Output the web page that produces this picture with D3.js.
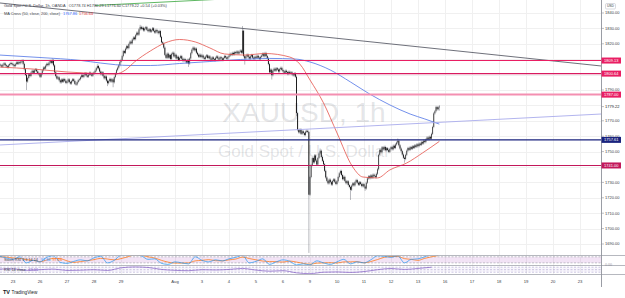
<!DOCTYPE html>
<html><head><meta charset="utf-8">
<script src="https://cdn.jsdelivr.net/npm/d3@7"></script>
<style>
html,body{margin:0;padding:0;background:#fff;overflow:hidden;}
svg{display:block;font-family:"Liberation Sans",Arial,sans-serif;}
</style></head><body>
<svg id="c" width="625" height="298"></svg>
<script>
// ---------------- DATA ----------------
const firstBar = -11; // hourly bar index of first close (Jul 23 00:00 = 0)
const closes = [
 // Jul 22 (tail)
 1806.0,1805.2,1806.5,1807.3,1806.1,1805.4,1804.8,1806.0,1806.9,1807.5,1806.8,
 // Jul 23
 1806.2,1805.5,1806.8,1807.9,1807.1,1808.0,1807.4,1808.6,1809.2,1807.0,1803.5,1799.8,
 1795.5,1797.8,1800.2,1799.1,1801.3,1802.5,1801.2,1802.8,1803.4,1802.1,1801.0,1800.2,
 // Jul 26
 1798.6,1800.5,1802.8,1804.6,1803.9,1805.8,1807.0,1806.2,1807.8,1808.9,1807.5,1809.3,
 1806.0,1801.5,1799.0,1797.4,1798.2,1796.3,1795.0,1796.8,1795.4,1797.1,1796.0,1794.6,
 // Jul 27
 1795.5,1796.9,1795.1,1794.2,1795.8,1797.0,1795.9,1794.0,1793.6,1795.2,1796.4,1797.0,
 1798.3,1799.6,1798.5,1799.8,1800.9,1799.4,1798.6,1800.0,1801.2,1800.1,1799.3,1800.6,
 // Jul 28
 1801.5,1802.6,1804.2,1805.6,1804.1,1802.0,1800.3,1801.5,1799.2,1797.6,1798.8,1796.1,
 1794.4,1795.8,1797.2,1795.5,1796.9,1795.0,1798.4,1800.6,1802.9,1804.5,1806.1,1808.2,
 // Jul 29
 1809.5,1812.0,1815.3,1814.1,1816.8,1818.5,1817.2,1819.9,1821.4,1820.3,1822.8,1824.1,
 1823.0,1825.6,1827.2,1826.0,1829.4,1831.0,1829.6,1830.4,1828.7,1829.9,1830.8,1829.1,
 // Jul 30
 1828.2,1829.5,1827.9,1828.8,1830.1,1828.4,1827.3,1829.0,1828.1,1826.9,1828.3,1824.5,
 1821.0,1820.2,1817.5,1812.8,1810.9,1813.6,1811.0,1812.7,1810.2,1813.5,1814.2,1811.8,
 // Aug 2
 1812.9,1810.5,1811.6,1809.4,1810.8,1812.0,1810.3,1808.9,1810.1,1809.0,1807.8,1809.6,
 1807.2,1810.5,1813.9,1816.2,1817.5,1815.8,1816.9,1814.2,1813.0,1811.6,1812.9,1811.4,
 // Aug 3
 1812.4,1811.0,1810.2,1811.7,1812.5,1810.8,1811.9,1810.4,1809.7,1811.2,1810.0,1809.4,
 1810.9,1811.8,1810.5,1809.8,1811.3,1810.6,1809.5,1810.8,1812.0,1811.1,1810.3,1811.5,
 // Aug 4
 1812.3,1813.5,1812.8,1814.1,1813.2,1814.6,1813.9,1815.0,1813.7,1814.8,1815.6,1814.2,
 1828.5,1812.0,1810.5,1811.8,1812.9,1811.5,1810.4,1811.9,1812.7,1811.0,1810.3,1811.6,
 // Aug 5
 1810.9,1812.2,1811.0,1810.1,1811.5,1812.4,1813.6,1811.9,1814.0,1812.1,1810.5,1806.8,
 1801.5,1803.2,1799.6,1802.4,1803.8,1802.6,1804.1,1803.3,1802.0,1803.6,1804.4,1803.0,
 // Aug 6
 1802.1,1801.2,1802.5,1801.6,1800.4,1801.8,1800.9,1801.5,1800.2,1799.5,1800.8,1798.6,
 1775.0,1764.0,1762.5,1764.3,1761.6,1763.2,1762.0,1760.8,1762.9,1763.5,1762.7,1722.0,
 // Aug 9
 1733.5,1741.2,1745.8,1743.0,1747.5,1744.2,1741.6,1745.9,1748.8,1750.6,1746.5,1744.0,
 1741.8,1737.5,1733.2,1731.0,1729.4,1731.8,1730.2,1728.6,1730.9,1732.0,1730.4,1729.0,
 // Aug 10
 1730.8,1733.5,1735.9,1737.4,1734.8,1732.1,1733.6,1731.0,1729.5,1730.7,1728.3,1727.0,
 1725.2,1727.9,1729.4,1728.1,1730.2,1731.5,1729.8,1728.5,1730.1,1729.0,1727.6,1728.9,
 // Aug 11
 1727.3,1726.0,1729.8,1732.6,1733.9,1732.8,1734.5,1733.1,1735.0,1734.2,1733.4,1735.6,
 1738.5,1747.9,1751.2,1749.6,1752.8,1751.4,1753.0,1750.9,1752.2,1751.0,1749.8,1751.7,
 // Aug 12
 1752.9,1751.5,1753.8,1752.4,1754.6,1755.9,1757.0,1754.1,1752.0,1750.3,1748.1,1746.0,
 1745.2,1747.9,1750.6,1752.3,1751.1,1752.9,1751.8,1753.4,1752.5,1754.0,1753.1,1754.7,
 // Aug 13
 1753.6,1755.2,1754.4,1756.1,1755.3,1757.0,1756.2,1757.8,1759.1,1758.0,1759.6,1758.4,
 1761.5,1766.0,1774.8,1776.2,1778.9,1777.5,1778.74,1779.22
];
// notable wicks: [bar index, high, low]
const wickSpikes = [
 [8,1809.8,null],[12,null,1790.0],[35,1810.5,null],[75,1806.8,null],[84,null,1792.5],
 [89,null,1791.8],[113,1832.3,null],[156,null,1805.0],[204,1831.5,null],[206,null,1806.5],
 [230,null,1796.8],[252,null,1773.0],[263,null,1684.2],[273,1752.0,null],[300,null,1718.6],
 [313,null,1724.5],[342,1758.5,null],[348,null,1742.8],[379,1780.29,1776.60]
];
// moving averages (read at sample bars)
const ma200Idx = [-12,24,60,78,104,122,148,175,202,228,251,264,282,300,317,335,353,366,379];
const ma200Val = [1812.7,1811.1,1809.2,1807.5,1805.9,1805.9,1807.2,1808.5,1809.8,1810.5,1810.1,1808.2,1803.0,1795.2,1787.4,1780.3,1774.4,1771.2,1767.86];
const ma50Idx = [-12,18,48,77,91,100,108,122,135,148,162,175,188,206,224,246,255,264,276,288,302,311,324,335,350,364,379];
const ma50Val = [1804.9,1803.6,1801.7,1800.7,1800.4,1803.0,1808.2,1815.3,1820.5,1822.8,1821.2,1817.3,1813.4,1812.7,1813.7,1811.4,1806.8,1796.5,1781.6,1762.1,1740.0,1733.5,1732.9,1738.1,1742.6,1749.1,1756.64];
// drawings
const levelPrices = [1809.13,1800.64,1787.00,1757.61,1741.00];
const levelLabels = ["1809.13","1800.64","1787.00","1757.61","1741.00"];
const trendGray  = [[-11.56,1846.5],[522.67,1805.6]];
const trendLav   = [[-11.56,1754.3],[522.67,1774.4]];
const trendGreen = [[73,1844.9],[180,1848.8]];
// axes
const priceTicks = [1690,1700,1710,1720,1730,1750,1760,1770,1790,1820,1830,1840];
const lastPrice = 1779.22;
const dayIdx    = [0,1,2,3,4,6,7,8,9,10,11,12,13,14,15,16,17,18,19,20,21];
const dayLabels = ["23","26","27","28","29","Aug","3","4","5","6","9","10","11","12","13","16","17","18","19","20","23"];
// Stoch RSI (every 6 bars from -12)
const stochK = [85,70,55,80,20,45,30,75,90,25,15,35,50,40,70,85,20,45,95,98,100,90,55,60,15,5,30,20,10,80,45,30,50,40,60,75,95,20,35,60,5,30,50,35,0,10,0,40,20,5,30,55,10,30,20,50,90,85,75,90,20,55,60,80,100,98];
const stochD = [80,78,68,65,52,45,32,48,65,62,40,25,33,42,52,65,58,50,62,80,98,95,80,68,45,27,18,18,20,40,45,52,42,40,50,58,77,63,50,38,33,32,28,38,28,15,7,17,20,22,18,30,30,32,20,33,53,75,83,83,62,55,45,65,80,93];
// RSI (every 12 bars from -12)
const rsiVals = [55,57,45,50,55,44,46,50,44,65,72,68,52,45,42,50,48,52,60,47,38,42,25,18,30,32,28,35,50,60,52,60,70];

// ---------------- CHART ----------------
const W=625,H=298, PR=601, MB=255;
const svg=d3.select('#c');
svg.append('rect').attr('width',W).attr('height',H).attr('fill','#fff');
const defs=svg.append('defs');
defs.append('clipPath').attr('id','mc').append('rect').attr('x',0).attr('y',0).attr('width',PR).attr('height',MB);
defs.append('clipPath').attr('id','pc').append('rect').attr('x',0).attr('y',255.5).attr('width',PR).attr('height',19);

const x=d3.scaleLinear().domain([-11.56,522.67]).range([0,PR]);
const y=d3.scaleLinear().domain([1690,1840]).range([244,13]);

// grid
const grid=svg.append('g');
grid.selectAll('line.h').data(d3.range(1690,1850,10)).join('line')
  .attr('x1',0).attr('x2',PR).attr('y1',d=>Math.round(y(d))+0.5).attr('y2',d=>Math.round(y(d))+0.5)
  .attr('stroke','#f0f0f0').attr('stroke-width',1);
grid.selectAll('line.v').data(dayIdx).join('line')
  .attr('y1',0).attr('y2',274).attr('x1',d=>Math.round(x(d*24))+0.5).attr('x2',d=>Math.round(x(d*24))+0.5)
  .attr('stroke','#f0f0f0').attr('stroke-width',1);

// watermark
svg.append('text').attr('x',304).attr('y',122).attr('text-anchor','middle')
  .attr('font-size',28).attr('fill','rgba(120,123,134,0.2)').text('XAUUSD, 1h');
svg.append('text').attr('x',304).attr('y',157).attr('text-anchor','middle')
  .attr('font-size',17).attr('fill','rgba(120,123,134,0.2)').text('Gold Spot / U.S. Dollar');

const main=svg.append('g').attr('clip-path','url(#mc)');

// candles
const spikeMap=new Map(wickSpikes.map(s=>[s[0],s]));
const bars=closes.map((c,i)=>{
  const idx=firstBar+i;
  const o=i===0?c+0.4:closes[i-1];
  let h=Math.max(o,c)+0.8, l=Math.min(o,c)-0.8;
  const s=spikeMap.get(idx);
  if(s){ if(s[1]!=null) h=s[1]; if(s[2]!=null) l=s[2]; }
  return {idx,o,h,l,c};
});
main.append('g').selectAll('line').data(bars).join('line')
  .attr('x1',d=>x(d.idx)).attr('x2',d=>x(d.idx)).attr('y1',d=>y(d.h)).attr('y2',d=>y(d.l))
  .attr('stroke','#7a7d86').attr('stroke-width',0.55);
main.append('g').selectAll('rect').data(bars).join('rect')
  .attr('x',d=>x(d.idx)-0.42).attr('width',0.84)
  .attr('y',d=>y(Math.max(d.o,d.c))).attr('height',d=>Math.max(0.6,Math.abs(y(d.o)-y(d.c))))
  .attr('fill',d=>d.c>=d.o?'#3a3a3a':'#000');

// MAs
const lineGen=d3.line().curve(d3.curveMonotoneX);
main.append('path').attr('d',lineGen(ma200Idx.map((d,i)=>[x(d),y(ma200Val[i])])))
  .attr('fill','none').attr('stroke','#4f73e6').attr('stroke-width',0.8);
main.append('path').attr('d',lineGen(ma50Idx.map((d,i)=>[x(d),y(ma50Val[i])])))
  .attr('fill','none').attr('stroke','#e4524a').attr('stroke-width',0.8);

// trend lines
const tl=(pts,col,w)=>main.append('line').attr('x1',x(pts[0][0])).attr('y1',y(pts[0][1]))
  .attr('x2',x(pts[1][0])).attr('y2',y(pts[1][1])).attr('stroke',col).attr('stroke-width',w);
tl(trendGray,'#5d606b',0.9);
tl(trendLav,'#a9acec',0.9);
tl(trendGreen,'#4caf50',0.9);

// horizontal levels
const lvlLine=['#e91e63','#d81b60','#f48fb1','#1a237e','#c2185b'];
const lvlW=[1.1,1.1,2.0,1.1,1.1];
const lvlBox=['#e91e63','#e91e63','#e91e63','#1a237e','#c2185b'];
main.selectAll('line.lv').data(levelPrices).join('line')
  .attr('x1',0).attr('x2',PR).attr('y1',d=>y(d)).attr('y2',d=>y(d))
  .attr('stroke',(d,i)=>lvlLine[i]).attr('stroke-width',(d,i)=>lvlW[i]);

// legends (top-left)
const lg1=svg.append('text').attr('x',4).attr('y',7).attr('font-size',3.9).attr('fill','#3a3d46');
lg1.append('tspan').text('Gold Spot / U.S. Dollar, 1h, OANDA');
lg1.append('tspan').attr('dx',3).text('O1778.74  H1780.29  L1776.60  C1779.22  +0.54 (+0.03%)');
const lg2=svg.append('text').attr('x',4).attr('y',15).attr('font-size',3.9).attr('fill','#3a3d46');
lg2.append('tspan').text('MA Cross (50, close, 200, close)');
lg2.append('tspan').attr('dx',3).attr('fill','#2962ff').text('1767.86');
lg2.append('tspan').attr('dx',2).attr('fill','#e53935').text('1756.64');

// -------- panes --------
const ys=d3.scaleLinear().domain([0,100]).range([264.9,254.8]);
const yr=d3.scaleLinear().domain([30,70]).range([272.2,267.2]);
const pane=svg.append('g').attr('clip-path','url(#pc)');
pane.append('rect').attr('x',0).attr('width',PR).attr('y',ys(80)).attr('height',ys(20)-ys(80))
  .attr('fill','rgba(156,39,176,0.13)');
[80,20].forEach(v=>pane.append('line').attr('x1',0).attr('x2',PR).attr('y1',ys(v)).attr('y2',ys(v))
  .attr('stroke','#8a8d96').attr('stroke-width',0.5).attr('stroke-dasharray','2,1.5'));
pane.append('rect').attr('x',0).attr('width',PR).attr('y',yr(70)).attr('height',yr(30)-yr(70))
  .attr('fill','rgba(126,87,194,0.05)');
[70,50,30].forEach(v=>pane.append('line').attr('x1',0).attr('x2',PR).attr('y1',yr(v)).attr('y2',yr(v))
  .attr('stroke','#9a8fc4').attr('stroke-width',0.5).attr('stroke-dasharray','2,1.5'));
const pl=d3.line().curve(d3.curveMonotoneX);
pane.append('path').attr('d',pl(stochD.map((v,i)=>[x(-12+6*i),ys(v)])))
  .attr('fill','none').attr('stroke','#ff6d00').attr('stroke-width',0.7);
pane.append('path').attr('d',pl(stochK.map((v,i)=>[x(-12+6*i),ys(v)])))
  .attr('fill','none').attr('stroke','#2196f3').attr('stroke-width',0.7);
pane.append('path').attr('d',pl(rsiVals.map((v,i)=>[x(-12+12*i),yr(v)])))
  .attr('fill','none').attr('stroke','#7e57c2').attr('stroke-width',0.7);

const sl=svg.append('text').attr('x',4).attr('y',261.3).attr('font-size',3.8).attr('fill','#3a3d46');
sl.append('tspan').text('Stoch RSI 3 3 14 14');
sl.append('tspan').attr('dx',3).attr('fill','#2196f3').text('97.86');
sl.append('tspan').attr('dx',2).attr('fill','#ff6d00').text('97.66');
const rl=svg.append('text').attr('x',4).attr('y',271.3).attr('font-size',3.8).attr('fill','#3a3d46');
rl.append('tspan').text('RSI 14 close');
rl.append('tspan').attr('dx',3).attr('fill','#7e57c2').text('69.61');

// separators and axis line
[255.5,265.5,274.5].forEach(v=>svg.append('line').attr('x1',0).attr('x2',W).attr('y1',v).attr('y2',v)
  .attr('stroke','#a3a6af').attr('stroke-width',0.8));
svg.append('line').attr('x1',PR+0.5).attr('x2',PR+0.5).attr('y1',0).attr('y2',287)
  .attr('stroke','#8f929b').attr('stroke-width',0.9);

// price axis
const pa=svg.append('g');
pa.selectAll('line').data(priceTicks).join('line')
  .attr('x1',PR).attr('x2',PR+3).attr('y1',d=>y(d)).attr('y2',d=>y(d)).attr('stroke','#8f929b').attr('stroke-width',0.6);
pa.selectAll('text').data(priceTicks).join('text')
  .attr('x',605).attr('y',d=>y(d)).attr('dy','0.35em').attr('font-size',4).attr('fill','#3a3d46')
  .text(d=>d.toFixed(2));
svg.append('line').attr('x1',PR).attr('x2',PR+3).attr('y1',y(lastPrice)).attr('y2',y(lastPrice)).attr('stroke','#8f929b').attr('stroke-width',0.6);
svg.append('text').attr('x',605).attr('y',y(lastPrice)).attr('dy','0.35em').attr('font-size',4).attr('fill','#131722').text(lastPrice.toFixed(2));
// level boxes
levelPrices.forEach((p,i)=>{
  svg.append('rect').attr('x',PR+0.5).attr('y',y(p)-3).attr('width',19.5).attr('height',6).attr('fill',lvlBox[i]);
  svg.append('text').attr('x',604).attr('y',y(p)).attr('dy','0.35em').attr('font-size',4).attr('fill','#fff').text(levelLabels[i]);
});
svg.append('text').attr('x',605).attr('y',264.5).attr('dy','0.35em').attr('font-size',3.6).attr('fill','#8f929b').text('0.00');
// USD label
svg.append('rect').attr('x',605.5).attr('y',3.5).attr('width',10).attr('height',5.5).attr('rx',1.2)
  .attr('fill','#fff').attr('stroke','#b2b5be').attr('stroke-width',0.5);
svg.append('text').attr('x',610.5).attr('y',6.3).attr('dy','0.35em').attr('text-anchor','middle').attr('font-size',3.4).attr('fill','#3a3d46').text('USD');

// time axis
svg.append('g').selectAll('text').data(dayIdx).join('text')
  .attr('x',d=>x(d*24)).attr('y',281.5).attr('dy','0.35em').attr('text-anchor','middle')
  .attr('font-size',4.2).attr('fill','#3a3d46').text((d,i)=>dayLabels[i]);

// TradingView logo
svg.append('text').attr('x',3).attr('y',294).attr('font-size',5.5).attr('font-weight','bold').attr('fill','#131722').text('TV');
svg.append('text').attr('x',11.5).attr('y',294).attr('font-size',4.7).attr('fill','#131722').text('TradingView');
</script>
</body></html>
